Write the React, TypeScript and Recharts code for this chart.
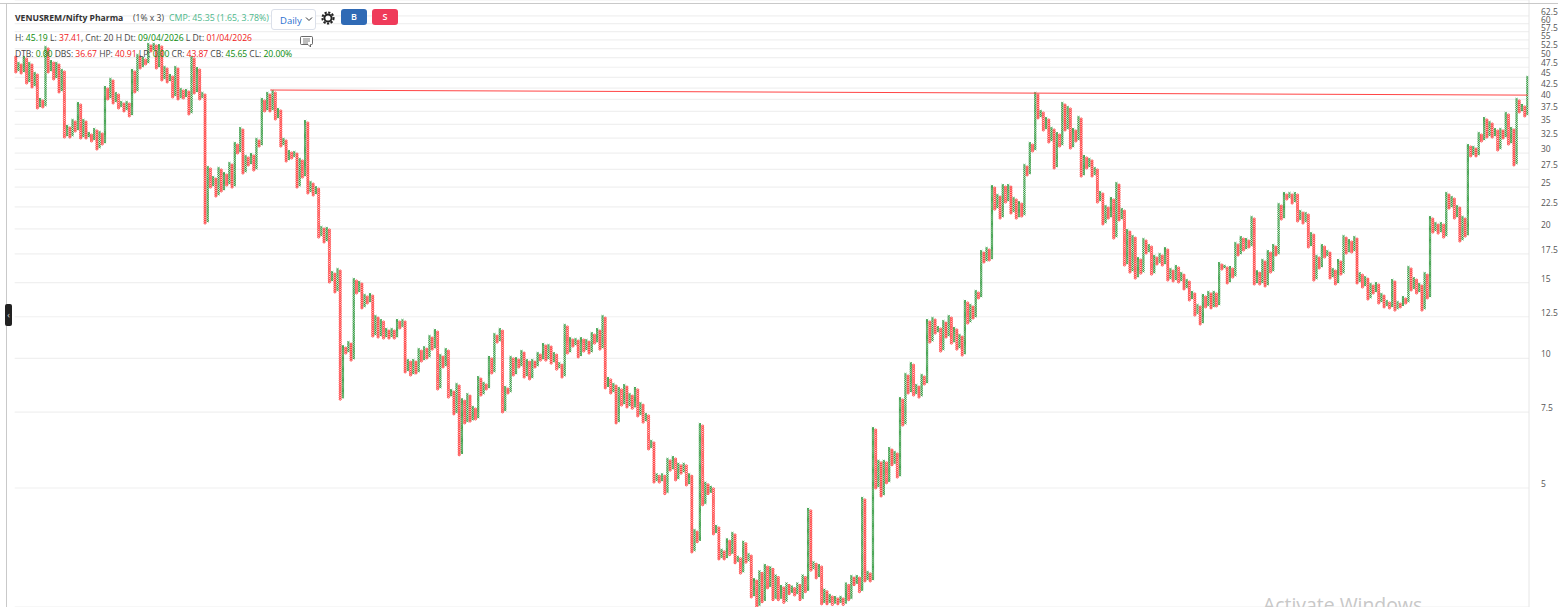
import React from 'react';
import { ComposedChart, Bar, XAxis, YAxis, CartesianGrid, ReferenceLine } from 'recharts';

// point & figure, 1% x 3 on a log price axis
const boxPct = 0.01;
const startPrice = 50.17;

// price where each column ends, columns alternate O (falling) then X (rising)
const columnEnds = [
  46.3, 48.58, 46.05, 50.17, 43.65, 48.58, 42.73, 46.05, 38.19, 40.07, 38.39, 52.93, 46.3, 49.1, 44.6, 48.58, 41.6, 46.8,
  32.69, 34.68, 32.69, 35.81, 33.76, 39.22, 32.52, 35.81, 32.52, 33.4, 32.0, 34.13, 30.66, 33.58, 31.49, 42.73, 40.07, 44.6,
  39.22, 41.38, 38.19, 39.43, 37.58, 39.43, 36.59, 46.8, 41.6, 50.71, 47.3, 49.91, 48.32, 53.79, 51.81, 53.79, 47.3, 53.5,
  44.36, 47.55, 43.89, 45.56, 40.5, 47.55, 40.07, 42.28, 40.29, 42.05, 36.98, 50.17, 41.38, 47.3, 40.07, 41.38, 20.63,
  27.85, 25.01, 26.39, 23.84, 27.7, 24.49, 26.96, 25.28, 28.45, 25.01, 31.66, 30.01, 34.31, 26.96, 29.54, 28.15, 29.85, 27.4,
  32.35, 31.15, 40.07, 37.58, 41.38, 37.58, 41.82, 36.0, 37.99, 31.15, 32.35, 28.75, 30.34, 29.22, 30.17, 25.01, 29.07, 26.39,
  35.62, 24.23, 25.69, 23.97, 25.01, 19.14, 20.2, 18.64, 20.09, 15.05, 15.87, 14.27, 16.13, 8.04, 10.68, 10.29, 10.91, 9.91,
  15.29, 14.19, 15.05, 13.1, 14.04, 13.45, 14.11, 11.27, 12.54, 11.21, 12.28, 11.15, 11.7, 11.15, 11.7, 11.15, 12.28, 11.77,
  12.28, 9.3, 9.91, 9.15, 9.91, 9.25, 10.51, 9.86, 10.62, 10.02, 11.27, 10.51, 11.64, 8.49, 10.18, 9.55, 10.51, 8.13, 8.44,
  7.43, 8.72, 5.97, 8.04, 7.08, 8.26, 7.15, 7.71, 7.23, 9.05, 8.22, 8.77, 8.49, 10.08, 9.25, 11.39, 10.91, 11.7, 7.51, 8.58,
  8.31, 10.08, 9.15, 10.02, 9.55, 10.4, 9.05, 9.91, 8.96, 9.91, 9.55, 10.29, 9.91, 10.8, 9.91, 10.74, 9.75, 10.29, 9.44, 9.75,
  9.05, 11.96, 10.29, 11.15, 10.68, 11.09, 10.08, 11.15, 10.4, 11.03, 10.29, 11.45, 10.85, 11.7, 10.51, 12.54, 8.54, 9.01,
  8.31, 8.72, 7.08, 8.54, 7.79, 8.67, 7.71, 8.26, 7.66, 8.54, 7.35, 7.87, 7.11, 7.43, 6.16,
  6.43, 5.16, 5.38, 5.16, 5.38, 4.85, 5.84, 5.5, 5.9, 5.22, 5.69, 5.41, 5.69, 5.08, 5.38, 3.55, 3.99, 3.75, 7.04, 4.57, 5.14,
  4.85, 5.03, 3.91, 4.08, 3.42, 3.59, 3.42, 3.8, 3.5, 3.93, 3.35, 3.46, 3.17, 3.75, 3.36, 3.51, 2.79, 3.07, 2.65, 3.2, 2.72,
  3.31, 2.93, 3.27, 2.75, 3.13, 2.75, 2.96, 2.71, 3.0, 2.84, 2.95, 2.82, 3.0, 2.75, 3.13, 2.87, 4.47, 3.22, 3.36, 3.09, 3.31,
  2.69, 2.9, 2.69, 2.82, 2.68, 2.79, 2.69, 2.79, 2.68, 3.0, 2.75, 3.12, 2.98, 3.12, 2.87, 4.74, 3.04, 3.19, 3.04, 6.89, 5.0,
  5.78, 4.79, 5.78, 5.14, 6.19, 5.66, 6.06, 5.3,
  8.09, 7.0, 9.2, 8.31, 9.75, 8.22, 8.67, 8.13, 9.15, 8.72, 12.28, 10.91, 12.41, 11.45, 11.83, 10.4, 12.21, 11.21, 12.54,
  10.85, 11.77, 10.51, 11.33, 10.18, 13.6, 12.08, 13.31, 12.41, 14.34, 13.82, 17.76, 16.75, 18.05, 16.93, 25.15, 22.23, 23.97,
  21.19, 25.28, 23.08, 25.28, 21.77, 23.59, 21.19, 23.08, 21.42, 28.15, 26.68, 31.66, 30.34, 41.38, 36.2, 37.58, 33.94, 36.2,
  31.83, 34.31, 27.7, 33.4, 31.15, 39.22, 33.94, 38.39, 30.82, 34.13, 32.0, 36.39, 26.53, 29.54, 27.7, 29.07, 26.53, 27.7,
  23.08, 24.36, 20.53,
  22.59, 21.19, 23.59, 19.04, 25.55, 20.97, 22.23, 16.48, 19.87, 15.87, 19.24, 15.37, 17.11, 15.78, 18.94, 17.57, 18.34, 15.7,
  17.3, 16.57, 17.48, 16.48, 18.05, 15.21, 16.13, 15.13, 16.4, 15.05, 15.78, 14.5, 15.21, 13.67, 14.27, 12.61, 13.31, 12.02,
  14.04, 13.17, 14.27, 13.1, 14.27, 13.24, 16.66, 16.13, 16.4, 14.97, 16.31, 15.45, 18.54, 17.39, 19.14, 17.86, 18.94, 18.15,
  21.31, 14.89, 15.95, 14.89, 16.93, 14.73, 17.76, 15.87, 18.34, 17.39, 22.84, 21.08, 24.23, 23.46, 24.23, 22.96, 24.23, 20.86,
  22.0, 20.63, 21.77, 18.15, 19.55, 15.21, 17.3, 16.22, 18.34, 17.2, 17.76, 15.37, 16.13, 14.89, 16.93, 15.7, 19.24, 17.57,
  18.84, 17.67, 19.14, 14.97, 15.78, 14.65, 15.45, 13.74, 14.89, 14.19, 14.97, 13.45, 14.11, 13.17, 13.6, 13.1, 15.21, 12.95,
  13.52, 13.17, 13.89, 13.45, 16.31, 14.42, 15.37, 14.19, 14.89, 12.95, 15.78, 13.82, 21.31,
  19.66, 20.63, 19.55, 20.63, 19.14, 24.23, 22.35, 23.71, 21.19, 22.59, 18.74, 21.31, 19.24, 31.32, 29.54, 30.99, 29.54, 33.4,
  32.0, 36.2, 32.69, 35.43, 32.69, 34.13, 30.5, 34.13, 32.52, 37.18, 31.49, 34.31, 28.15, 40.07, 37.38, 38.81, 36.59, 45.08,
];

const priceTicks = [5, 7.5, 10, 12.5, 15, 17.5, 20, 22.5, 25, 27.5, 30, 32.5, 35, 37.5, 40, 42.5, 45, 47.5, 50, 52.5, 55, 57.5, 60, 62.5];
const priceDomain = [2.645, 68.07];
const trendFrom = { col: 94, price: 42.05 };
const trendTo = { price: 40.92 };

const headerRow1 = [
  { t: 'H: ', c: '#444' }, { t: '45.19', c: '#0a8a0a' }, { t: ' L: ', c: '#444' }, { t: '37.41', c: '#f01818' },
  { t: ', Cnt: 20 H Dt: ', c: '#444' }, { t: '09/04/2026', c: '#0a8a0a' }, { t: ' L Dt: ', c: '#444' }, { t: '01/04/2026', c: '#f01818' },
];
const headerRow2 = [
  { t: 'DTB: ', c: '#444' }, { t: '0.00', c: '#0a8a0a' }, { t: ' DBS: ', c: '#444' }, { t: '36.67', c: '#f01818' },
  { t: ' HP: ', c: '#444' }, { t: '40.91', c: '#f01818' }, { t: ' LP: ', c: '#444' }, { t: '0.00', c: '#0a8a0a' },
  { t: ' CR: ', c: '#444' }, { t: '43.87', c: '#f01818' }, { t: ' CB: ', c: '#444' }, { t: '45.65', c: '#0a8a0a' },
  { t: ' CL: ', c: '#444' }, { t: '20.00%', c: '#0a8a0a' },
];

const rows = columnEnds.map((end, i) => {
  const up = i % 2 === 1;
  const prev = i === 0 ? startPrice : columnEnds[i - 1];
  const from = i === 0 ? prev : up ? prev * (1 + boxPct) : prev * (1 - boxPct);
  const high = Math.max(from, end) * (1 + boxPct / 2);
  const low = Math.min(from, end) * (1 - boxPct / 2);
  const boxes = Math.max(1, Math.round(Math.log(high / low) / Math.log(1 + boxPct)));
  return { col: i, range: [low, high], up, boxes };
});

const FONT = '"Open Sans", sans-serif';
const firstColX = 16;
const lastColX = 1526;
const band = (lastColX - firstColX) / (rows.length - 1);
const plotLeft = firstColX - band / 2;
const plotRight = 1529;

function BoxColumn(props: any) {
  const { x, y, width, height, payload } = props;
  const n = payload.boxes;
  const step = height / n;
  let d = '';
  if (payload.up) {
    for (let i = 0; i < n; i++) {
      const t = y + i * step;
      d += `M${x},${t}L${x + width},${t + step}M${x + width},${t}L${x},${t + step}`;
    }
    return <path d={d} stroke="#1d8f2c" strokeWidth={0.8} fill="none" />;
  }
  const r = width / 2;
  for (let i = 0; i < n; i++) {
    const cy = y + (i + 0.5) * step;
    d += `M${x},${cy}A${r},${step / 2} 0 1 0 ${x + width},${cy}A${r},${step / 2} 0 1 0 ${x},${cy}`;
  }
  return <path d={d} stroke="#ff2c2c" strokeWidth={0.85} fill="none" />;
}

function PriceTick(props: any) {
  const { x, y, payload } = props;
  return (
    <text x={x + 4} y={y - 1} fontSize={8.5} fontFamily={FONT} fill="#555">
      {payload.value}
    </text>
  );
}

function Header() {
  const row = (items: { t: string; c: string }[], top: number, spacing: number) => (
    <div style={{ position: 'absolute', left: 15, top, fontSize: 8.6, whiteSpace: 'pre', lineHeight: '12px', letterSpacing: spacing }}>
      {items.map((it, i) => (
        <span key={i} style={{ color: it.c }}>{it.t}</span>
      ))}
    </div>
  );
  return (
    <div style={{ position: 'absolute', left: 0, top: 0, width: 1558, height: 607, fontFamily: FONT, pointerEvents: 'none' }}>
      <div style={{ position: 'absolute', left: 0, top: 3, width: 1558, height: 1, background: '#c9c9c9' }} />
      <div style={{ position: 'absolute', left: 6, top: 3, width: 1, height: 604, background: '#c9c9c9' }} />
      <div style={{ position: 'absolute', left: 15, top: 12, fontSize: 8.6, fontWeight: 700, color: '#333', lineHeight: '12px' }}>VENUSREM/Nifty Pharma</div>
      <div style={{ position: 'absolute', left: 133, top: 12, fontSize: 8.6, color: '#444', lineHeight: '12px' }}>(1% x 3)</div>
      <div style={{ position: 'absolute', left: 169, top: 12, fontSize: 8.8, color: '#4db88c', lineHeight: '12px' }}>CMP: 45.35 (1.65, 3.78%)</div>
      <select defaultValue="Daily" style={{ position: 'absolute', left: 271, top: 9, width: 45, height: 21, fontSize: 9.5, fontFamily: FONT, color: '#2a6fd0', background: '#fff', border: '1px solid #dbe0ea', borderRadius: 3, padding: '2px 0 0 8px', appearance: 'none' }}>
        <option>Daily</option>
      </select>
      <svg style={{ position: 'absolute', left: 305, top: 16 }} width={8} height={6}>
        <path d="M1,1.5L4,4.5L7,1.5" fill="none" stroke="#333" strokeWidth={1} />
      </svg>
      <svg style={{ position: 'absolute', left: 321, top: 11 }} width={14} height={14}>
        <circle cx={7} cy={7} r={5.6} fill="none" stroke="#222" strokeWidth={2} strokeDasharray="2.2 1.5" />
        <circle cx={7} cy={7} r={3.6} fill="none" stroke="#222" strokeWidth={2} />
      </svg>
      <div style={{ position: 'absolute', left: 341, top: 9, width: 26, height: 16, borderRadius: 3, background: '#2f6ab5', color: '#fff', fontSize: 9, fontWeight: 600, textAlign: 'center', lineHeight: '16px' }}>B</div>
      <div style={{ position: 'absolute', left: 372, top: 9, width: 26, height: 16, borderRadius: 3, background: '#ef3b5a', color: '#fff', fontSize: 9, fontWeight: 600, textAlign: 'center', lineHeight: '16px' }}>S</div>
      <svg style={{ position: 'absolute', left: 299, top: 35 }} width={15} height={14}>
        <path d="M2.5,1.5H12.5A1,1 0 0 1 13.5,2.5V8.5A1,1 0 0 1 12.5,9.5H11.5V12L9,9.5H2.5A1,1 0 0 1 1.5,8.5V2.5A1,1 0 0 1 2.5,1.5Z" fill="#fff" stroke="#444" strokeWidth={0.8} />
        <path d="M4,4H11M4,6H11M4,8H9" stroke="#444" strokeWidth={0.7} />
      </svg>
      {row(headerRow1, 32, 0)}
      {row(headerRow2, 48, -0.06)}
      <div style={{ position: 'absolute', left: 5, top: 304, width: 7, height: 22, borderRadius: 2, background: '#222', color: '#ddd', fontSize: 9, lineHeight: '22px', textAlign: 'center' }}>‹</div>
      <div style={{ position: 'absolute', left: 1263, top: 592, fontSize: 19.4, lineHeight: '26px', color: '#c8c8c8', whiteSpace: 'nowrap' }}>Activate Windows</div>
    </div>
  );
}

export default function App() {
  return (
    <div style={{ position: 'absolute', left: 0, top: 0, width: 1558, height: 607, overflow: 'hidden', background: '#fff' }}>
      <ComposedChart
        width={1558}
        height={607}
        data={rows}
        margin={{ top: 0, right: 0, bottom: 0, left: plotLeft }}
        barCategoryGap={0}
      >
        <CartesianGrid vertical={false} stroke="#f0f0f0" strokeWidth={1.2} />
        <XAxis dataKey="col" type="category" hide />
        <YAxis
          orientation="right"
          scale="log"
          domain={priceDomain}
          ticks={priceTicks}
          interval={0}
          allowDataOverflow
          width={1558 - plotRight}
          tick={<PriceTick />}
          tickLine={false}
          axisLine={{ stroke: '#e6e6e6' }}
        />
        <Bar dataKey="range" barSize={2.2} isAnimationActive={false} shape={<BoxColumn />} />
        <ReferenceLine
          segment={[
            { x: trendFrom.col, y: trendFrom.price },
            { x: rows.length - 1, y: trendTo.price },
          ]}
          stroke="#f44"
          strokeWidth={1}
        />
      </ComposedChart>
      <Header />
    </div>
  );
}
